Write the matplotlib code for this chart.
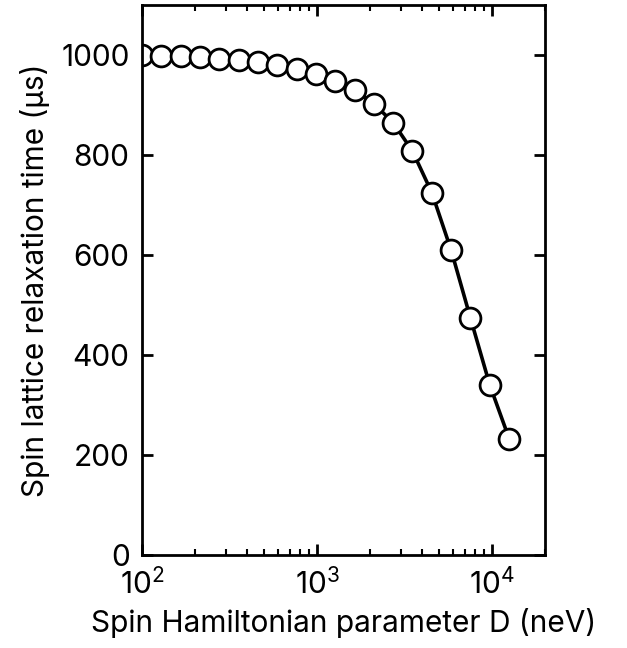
import numpy as np
import matplotlib.pyplot as plt

plt.rcParams['font.family'] = ['Inter', 'DejaVu Sans']

# Spin Hamiltonian parameter D (neV)
D = [100, 129, 166, 214, 276, 356, 459, 592, 763, 984,
     1269, 1636, 2109, 2720, 3507, 4522, 5830, 7517, 9693, 12497]
# Spin lattice relaxation time (us)
T1 = [1000, 999, 998, 996, 993, 990, 986, 980, 972, 962,
      948, 930, 903, 865, 808, 725, 610, 474, 340, 233]

fig = plt.figure(figsize=(6.27, 6.48), dpi=100)
ax = fig.add_axes([0.2265, 0.1435, 0.6425, 0.8485])

ax.plot(D, T1, color='black', lw=2.6, marker='o', ms=15,
        mfc='white', mec='black', mew=2.0)

ax.set_xscale('log')
ax.set_xlim(100, 20000)
ax.set_ylim(0, 1100)
ax.set_yticks([0, 200, 400, 600, 800, 1000])

ax.set_xlabel("Spin Hamiltonian parameter D (neV)", fontsize=21.5, labelpad=6)
ax.set_ylabel("Spin lattice relaxation time (µs)", fontsize=21.5, labelpad=8)

ax.tick_params(which='both', direction='in', top=True, right=True, labelsize=21.5)
ax.tick_params(which='major', length=8, width=2, pad=9)
ax.tick_params(which='minor', length=4, width=1.5)
for s in ax.spines.values():
    s.set_linewidth(2)

fig.savefig("out.png", dpi=100)
